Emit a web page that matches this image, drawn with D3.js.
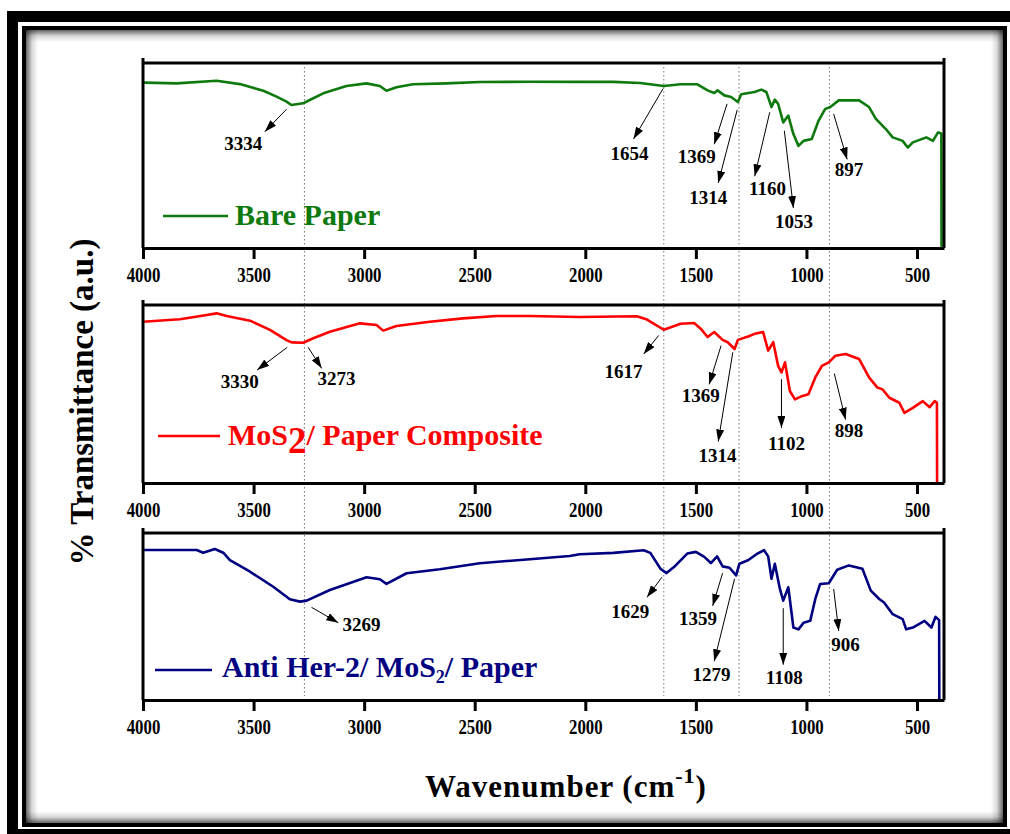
<!DOCTYPE html>
<html><head><meta charset="utf-8">
<script src="https://cdn.jsdelivr.net/npm/d3@7"></script>
<style>
body{margin:0;background:#fff}
svg{display:block}
svg text{font-family:"Liberation Serif","Tinos","Times New Roman","DejaVu Serif",serif !important;font-weight:bold}
</style>
</head><body>
<svg id="c" width="1010" height="834"></svg>
<script>
// ---------- data ----------
const xTicks = [4000, 3500, 3000, 2500, 2000, 1500, 1000, 500];
const refLines = [3270, 1645, 1305, 896];
const seriesNames = ["Bare Paper", "MoS2/ Paper Composite", "Anti Her-2/ MoS2/ Paper"];

const bareSpectrum = [[4000,89.4],[3991,89.4],[3848,89.0],[3667,90.4],[3562,88.6],[3456,85.0],[3396,81.8],[3351,79.1],[3329,77.3],[3276,78.2],[3246,80.0],[3185,83.6],[3080,87.6],[2990,89.0],[2929,87.6],[2899,85.0],[2854,86.9],[2779,88.5],[2628,89.0],[2477,89.7],[2251,89.9],[2025,89.8],[1873,89.8],[1752,89.2],[1645,87.6],[1569,88.5],[1493,88.5],[1447,85.2],[1417,83.8],[1402,85.2],[1371,82.5],[1341,81.6],[1310,78.9],[1295,83.1],[1235,84.3],[1204,85.6],[1181,84.3],[1158,76.2],[1143,80.2],[1128,77.9],[1105,67.9],[1082,71.6],[1059,61.6],[1036,55.2],[1013,57.9],[976,58.9],[945,68.9],[915,75.2],[892,76.2],[854,79.8],[762,79.8],[717,76.2],[686,69.8],[641,64.3],[610,59.8],[565,57.9],[542,54.3],[519,57.1],[458,59.8],[428,57.9],[405,62.5],[390,61.9],[389,-10]];

const mosSpectrum = [[4000,90.6],[3833,92.0],[3712,94.4],[3667,95.3],[3622,93.8],[3516,91.2],[3426,86.0],[3351,80.3],[3328,79.0],[3276,78.8],[3230,81.3],[3155,85.0],[3019,89.7],[2944,88.8],[2914,85.6],[2854,88.2],[2703,90.6],[2553,92.5],[2402,93.8],[2251,93.8],[2025,93.3],[1767,93.7],[1721,91.8],[1645,86.1],[1569,89.5],[1508,89.9],[1478,86.7],[1447,82.0],[1417,84.8],[1379,80.4],[1356,79.1],[1325,75.3],[1310,80.4],[1264,82.3],[1234,83.8],[1196,84.8],[1173,74.4],[1150,79.1],[1128,65.8],[1113,62.1],[1097,67.8],[1075,51.7],[1052,47.0],[1021,48.8],[991,49.8],[960,59.3],[930,65.8],[899,67.8],[869,71.5],[823,72.5],[762,69.7],[717,59.3],[679,53.6],[656,52.6],[625,47.9],[580,45.1],[557,39.4],[519,42.2],[474,46.0],[443,42.6],[420,46.0],[410,45.1],[409,-10]];

const herSpectrum = [[4000,89.8],[3757,89.8],[3728,88.2],[3675,90.4],[3637,88.2],[3607,83.8],[3516,76.8],[3411,67.8],[3336,60.3],[3290,58.9],[3260,59.5],[3155,65.9],[2989,73.5],[2929,72.3],[2899,69.5],[2808,75.9],[2658,78.3],[2477,81.9],[2251,84.3],[2071,86.2],[2025,87.3],[1873,88.1],[1736,89.7],[1706,88.1],[1660,78.6],[1633,76.0],[1599,79.6],[1539,87.7],[1500,88.7],[1462,85.7],[1432,82.0],[1404,86.0],[1379,80.0],[1348,79.2],[1318,74.6],[1303,81.6],[1264,83.7],[1226,87.3],[1192,89.7],[1173,86.0],[1158,72.6],[1143,81.6],[1120,66.5],[1105,59.5],[1082,67.5],[1059,43.4],[1036,42.3],[1013,46.3],[983,47.4],[960,60.5],[938,69.5],[899,69.9],[861,78.0],[808,80.6],[747,78.6],[709,65.5],[671,60.5],[649,58.4],[610,51.4],[565,48.4],[549,42.3],[519,43.4],[466,47.4],[435,43.4],[416,49.8],[400,47.8],[399,-10]];

// annotations: label, text position [wn, T], arrow start [wn, T], arrow end [wn, T]
const bareNotes = [
  ["3334",[3547,56.2],[3351,75.0],[3449,62.9]],
  ["1654",[1800,50.6],[1648,86.2],[1782,58.9]],
  ["1369",[1496,49.2],[1359,77.9],[1417,56.1]],
  ["1314",[1444,27.0],[1313,74.7],[1399,35.2]],
  ["1160",[1176,32.1],[1166,73.4],[1234,38.8]],
  ["1053",[1056,14.3],[1100,63.4],[1059,21.6]],
  ["897",[808,41.9],[877,72.5],[816,47.9]]
];
const mosNotes = [
  ["3330",[3562,56.9],[3348,76.2],[3484,63.5]],
  ["3273",[3125,58.3],[3253,76.2],[3192,64.4]],
  ["1617",[1827,62.5],[1668,82.9],[1736,72.5]],
  ["1369",[1478,48.9],[1386,77.2],[1440,55.4]],
  ["1314",[1402,15.3],[1333,73.4],[1399,23.3]],
  ["1102",[1090,21.8],[1113,58.3],[1113,30.9]],
  ["898",[808,29.4],[874,61.5],[823,35.6]]
];
const herNotes = [
  ["3269",[3012,44.9],[3238,55.5],[3117,46.3]],
  ["1629",[1797,52.4],[1653,73.6],[1721,61.5]],
  ["1359",[1490,48.7],[1379,76.0],[1424,56.4]],
  ["1279",[1429,14.7],[1325,72.6],[1417,23.2]],
  ["1108",[1100,13.1],[1105,55.0],[1105,21.1]],
  ["906",[823,33.2],[877,66.5],[854,41.3]]
];

// ---------- layout ----------
const W = 1010, H = 834;
const X0 = 143, X1 = 944;
const panels = [
  {top: 63, bottom: 248, color: "#0e7a0e", data: bareSpectrum, notes: bareNotes, legY: 216, legX: [163, 228]},
  {top: 305, bottom: 483, color: "#ff0000", data: mosSpectrum, notes: mosNotes, legY: 436, legX: [158, 220]},
  {top: 533, bottom: 700, color: "#000080", data: herSpectrum, notes: herNotes, legY: 670, legX: [155, 212]}
];

const svg = d3.select("#c");
const defs = svg.append("defs");

// ---------- frame ----------
svg.append("rect").attr("x", 0).attr("y", 0).attr("width", W).attr("height", H).attr("fill", "#fff");
svg.append("rect").attr("x", 7).attr("y", 11).attr("width", W).attr("height", H).attr("fill", "#000");
svg.append("rect").attr("x", 18).attr("y", 22).attr("width", W).attr("height", 807).attr("fill", "#fff");
svg.append("rect").attr("x", 24).attr("y", 28).attr("width", 981).attr("height", 797)
  .attr("fill", "#fff").attr("stroke", "#000").attr("stroke-width", 4);
const shadowDirs = [
  {id: "gL", x1: 0, y1: 0, x2: 1, y2: 0, x: 26, y: 30, w: 12, h: 793},
  {id: "gR", x1: 1, y1: 0, x2: 0, y2: 0, x: 991, y: 30, w: 12, h: 793},
  {id: "gT", x1: 0, y1: 0, x2: 0, y2: 1, x: 26, y: 30, w: 977, h: 12},
  {id: "gB", x1: 0, y1: 1, x2: 0, y2: 0, x: 26, y: 811, w: 977, h: 12}
];
shadowDirs.forEach(d => {
  const g = defs.append("linearGradient").attr("id", d.id)
    .attr("x1", d.x1).attr("y1", d.y1).attr("x2", d.x2).attr("y2", d.y2);
  g.append("stop").attr("offset", 0).attr("stop-color", "#000").attr("stop-opacity", 0.6);
  g.append("stop").attr("offset", 0.5).attr("stop-color", "#000").attr("stop-opacity", 0.15);
  g.append("stop").attr("offset", 1).attr("stop-color", "#000").attr("stop-opacity", 0);
  svg.append("rect").attr("x", d.x).attr("y", d.y).attr("width", d.w).attr("height", d.h)
    .attr("fill", `url(#${d.id})`);
});

defs.append("marker").attr("id", "arr").attr("viewBox", "0 0 12 8")
  .attr("refX", 12).attr("refY", 4).attr("markerWidth", 12).attr("markerHeight", 8)
  .attr("markerUnits", "userSpaceOnUse").attr("orient", "auto")
  .append("path").attr("d", "M0,0 L12,4 L0,8 Z").attr("fill", "#000");

const x = d3.scaleLinear().domain([4000, 378]).range([X0, X1]);

svg.append("g").selectAll("line").data(refLines).join("line")
  .attr("x1", d => x(d)).attr("x2", d => x(d))
  .attr("y1", panels[0].top + 4).attr("y2", panels[2].bottom - 4)
  .attr("stroke", "#777").attr("stroke-width", 1).attr("stroke-dasharray", "1.5,2.5");

panels.forEach((p, i) => {
  const y = d3.scaleLinear().domain([0, 100]).range([p.bottom, p.top]);
  const g = svg.append("g");
  const cid = "clip" + i;
  defs.append("clipPath").attr("id", cid).append("rect")
    .attr("x", X0).attr("y", p.top).attr("width", X1 - X0).attr("height", p.bottom - p.top);

  g.append("path").datum(p.data)
    .attr("clip-path", `url(#${cid})`)
    .attr("fill", "none").attr("stroke", p.color).attr("stroke-width", 2.6)
    .attr("stroke-linejoin", "round")
    .attr("d", d3.line().x(d => x(d[0])).y(d => y(d[1])));

  g.append("line").attr("x1", X0).attr("x2", X1).attr("y1", p.top).attr("y2", p.top)
    .attr("stroke", "#000").attr("stroke-width", 3);
  g.append("line").attr("x1", X0).attr("x2", X0).attr("y1", p.top - 5).attr("y2", p.bottom)
    .attr("stroke", "#000").attr("stroke-width", 3);
  g.append("line").attr("x1", X1).attr("x2", X1).attr("y1", p.top - 5).attr("y2", p.bottom)
    .attr("stroke", "#000").attr("stroke-width", 3);

  const ax = g.append("g").attr("transform", `translate(0,${p.bottom})`)
    .call(d3.axisBottom(x).tickValues(xTicks).tickFormat(d3.format("d"))
      .tickSize(11).tickPadding(8).tickSizeOuter(0));
  ax.attr("font-family", null);
  ax.select(".domain").attr("stroke", "#000").attr("stroke-width", 3);
  ax.selectAll(".tick line").attr("stroke", "#000").attr("stroke-width", 3);
  ax.selectAll(".tick text").attr("font-size", 21).attr("fill", "#000")
    .attr("transform", "scale(0.8,1)");

  p.notes.forEach(n => {
    g.append("line").attr("x1", x(n[2][0])).attr("y1", y(n[2][1]))
      .attr("x2", x(n[3][0])).attr("y2", y(n[3][1]))
      .attr("stroke", "#000").attr("stroke-width", 1).attr("marker-end", "url(#arr)");
    g.append("text").attr("x", x(n[1][0])).attr("y", y(n[1][1]) + 6)
      .attr("text-anchor", "middle").attr("font-size", 19).attr("fill", "#000").text(n[0]);
  });

  g.append("line").attr("x1", p.legX[0]).attr("x2", p.legX[1]).attr("y1", p.legY).attr("y2", p.legY)
    .attr("stroke", p.color).attr("stroke-width", 2.6);
});

const lt = (xx, yy, color) => svg.append("text").attr("x", xx).attr("y", yy)
  .attr("font-size", 30).attr("fill", color);
lt(235, 225, panels[0].color).text(seriesNames[0]);
{
  const t = lt(228, 445, panels[1].color);
  t.append("tspan").text("MoS");
  t.append("tspan").attr("font-size", 37).attr("dy", 8).text("2");
  t.append("tspan").attr("dy", -8).text("/ Paper Composite");
}
{
  const t = lt(222, 677, panels[2].color);
  t.append("tspan").text("Anti Her-2/ MoS");
  t.append("tspan").attr("font-size", 18).attr("dy", 6).text("2");
  t.append("tspan").attr("dy", -6).text("/ Paper");
}

svg.append("text").attr("transform", "translate(93,402) rotate(-90)")
  .attr("text-anchor", "middle").attr("font-size", 33).attr("fill", "#000")
  .text("% Transmittance (a.u.)");
{
  const t = svg.append("text").attr("x", 566).attr("y", 797).attr("text-anchor", "middle")
    .attr("font-size", 31).attr("letter-spacing", 1).attr("fill", "#000");
  t.append("tspan").text("Wavenumber (cm");
  t.append("tspan").attr("font-size", 22).attr("dy", -14).text("-1");
  t.append("tspan").attr("dy", 14).text(")");
}
</script>
</body></html>
